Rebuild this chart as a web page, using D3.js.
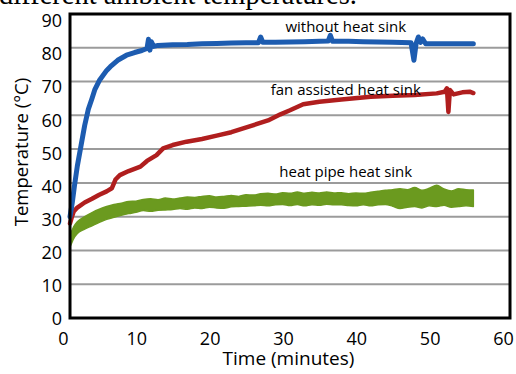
<!DOCTYPE html>
<html>
<head>
<meta charset="utf-8">
<script src="https://cdn.jsdelivr.net/npm/d3@7"></script>
<style>
  body { margin: 0; background: #fff; }
  svg { display: block; }
</style>
</head>
<body>
<svg></svg>
<script>
// without heat sink
let blueTime = [0, 0.3, 0.6, 1, 1.5, 2, 2.5, 3, 3.4, 4, 5, 5.5, 6.5, 7.7, 8.8, 9.8, 10.5, 10.7, 10.9, 11.1, 11.4, 12, 14, 16, 18, 20, 22, 24, 25.7, 26, 26.3, 28, 30, 32, 34, 35.2, 35.5, 35.8, 38, 40, 42, 44, 46.5, 46.9, 47.2, 47.5, 47.8, 48.1, 48.5, 50, 52, 55]
let blueTemp = [30, 34, 39, 45, 51, 57, 61.8, 65, 67.7, 70.3, 73.3, 74.4, 76.3, 77.8, 78.6, 79.2, 79.8, 82.5, 79.3, 81.8, 80.4, 80.7, 80.9, 81, 81.2, 81.3, 81.4, 81.5, 81.5, 83.2, 81.6, 81.6, 81.7, 81.8, 81.9, 82, 83.7, 81.9, 81.9, 81.8, 81.7, 81.6, 81.5, 76.3, 81.3, 83.2, 81.6, 82.6, 81.2, 81.2, 81.2, 81.2]

// fan assisted heat sink
let redTime = [0, 0.2, 0.5, 1, 2, 3, 4, 5, 5.7, 6.2, 6.8, 8, 9.6, 10.5, 11.8, 12.7, 14, 15.9, 18, 20, 22, 24.6, 27, 28.7, 30, 31.8, 34, 37, 41, 44, 47, 50, 51.1, 51.4, 51.6, 51.8, 52.3, 53.5, 54.5, 55]
let redTemp = [28, 29.5, 31.5, 32.7, 34.2, 35.3, 36.5, 37.5, 38.4, 41, 42.3, 43.5, 44.8, 46.5, 48.2, 50.2, 51.2, 52.2, 53, 54, 55, 56.8, 58.5, 60.3, 61.5, 63.3, 64, 64.7, 65.5, 65.8, 66, 66.5, 67, 68, 61, 67.5, 66.2, 66.8, 67, 66.6]

// heat pipe heat sink (band low / high)
let greenTime = [0, 0.5, 1, 2, 3, 4, 5, 6, 7, 8, 9, 10, 11, 12, 13, 14, 15, 16, 17, 18, 19, 20, 21, 22, 23, 24, 25, 26, 27, 28, 29, 30, 31, 32, 33, 34, 35, 36, 37, 38, 39, 40, 41, 42, 43, 44, 45, 46, 47, 48, 49, 50, 51, 52, 53, 54, 55]
let greenLow = [21, 23.5, 25, 26.3, 27.3, 28.3, 29.2, 29.8, 30.4, 30.9, 31.3, 31.8, 31.6, 31.9, 32, 32.1, 32.4, 32.2, 32.6, 32.4, 32.8, 32.6, 32.5, 32.9, 33, 33.1, 33.2, 33.4, 33.2, 33.5, 33.6, 33.3, 33.6, 33.2, 33.5, 33.4, 33.7, 33.5, 33.5, 33.3, 33.2, 33.5, 33.2, 33.5, 33.6, 33.1, 32.4, 32.8, 33, 32.6, 33.2, 33, 33.4, 32.8, 33, 33.2, 33]
let greenHigh = [24.5, 27, 28.5, 30, 31.2, 32.2, 33, 33.6, 34, 34.5, 34.6, 35.1, 35.3, 35, 35.5, 35.2, 35.5, 35.8, 35.7, 36, 36.2, 35.8, 36, 36.3, 36, 36.5, 36.4, 36.8, 36.9, 36.7, 37.1, 36.9, 37.3, 36.9, 37.2, 37, 37.3, 37, 37.1, 36.8, 37, 36.9, 37.2, 37.5, 37.8, 38, 38.3, 38, 38.6, 37.8, 38.4, 39.3, 38.2, 37.6, 38.3, 38, 37.9]

let xTicks = [0, 10, 20, 30, 40, 50, 60]
let yTicks = [0, 10, 20, 30, 40, 50, 60, 70, 80, 90]

let labels = [
  { text: 'without heat sink', t: 37.6, v: 84.8 },
  { text: 'fan assisted heat sink', t: 37.6, v: 66.1 },
  { text: 'heat pipe heat sink', t: 37.6, v: 41.6 }
]

let width = 516
let height = 374
let plotLeft = 70
let plotRight = 510
let plotTop = 14
let plotBottom = 318

let svg = d3.select('svg')
  .attr('width', width)
  .attr('height', height)

let xScale = d3.scaleLinear().domain([0, 60]).range([plotLeft, plotRight])
let yScale = d3.scaleLinear().domain([0, 90]).range([plotBottom, plotTop])
// the tick labels in the figure sit on a slightly different spacing than the frame
let xLabelScale = d3.scaleLinear().domain([0, 60]).range([63, 503])
let yLabelScale = d3.scaleLinear().domain([0, 90]).range([319, 21])

let font = "'Open Sans', sans-serif"

// caption left over from the page above the figure
svg.append('text')
  .attr('x', -1)
  .attr('y', 4)
  .style('font-family', "'Liberation Serif', serif")
  .style('font-size', '28.5px')
  .style('fill', '#000')
  .text('different ambient temperatures.')

// gridlines
svg.append('g')
  .selectAll('line')
  .data(yTicks.filter(d => d > 0 && d < 90))
  .enter()
  .append('line')
  .attr('x1', plotLeft)
  .attr('x2', plotRight)
  .attr('y1', d => yScale(d))
  .attr('y2', d => yScale(d))
  .attr('stroke', '#9b9b9b')
  .attr('stroke-width', 2)

// green band
let greenData = greenTime.map((t, i) => ({ t: t, lo: greenLow[i], hi: greenHigh[i] }))
let band = d3.area()
  .x(d => xScale(d.t))
  .y0(d => yScale(d.lo))
  .y1(d => yScale(d.hi))
  .curve(d3.curveMonotoneX)

svg.append('path')
  .datum(greenData)
  .attr('d', band)
  .attr('fill', '#6b9a1f')
  .attr('stroke', '#6b9a1f')
  .attr('stroke-width', 1.5)
  .attr('stroke-linejoin', 'round')

let line = d3.line()
  .x(d => xScale(d[0]))
  .y(d => yScale(d[1]))

svg.append('path')
  .datum(redTime.map((t, i) => [t, redTemp[i]]))
  .attr('d', line)
  .attr('fill', 'none')
  .attr('stroke', '#b01e1e')
  .attr('stroke-width', 4.5)
  .attr('stroke-linejoin', 'round')
  .attr('stroke-linecap', 'round')

svg.append('path')
  .datum(blueTime.map((t, i) => [t, blueTemp[i]]))
  .attr('d', line)
  .attr('fill', 'none')
  .attr('stroke', '#1d5cb0')
  .attr('stroke-width', 5)
  .attr('stroke-linejoin', 'round')
  .attr('stroke-linecap', 'round')

// frame
svg.append('rect')
  .attr('x', plotLeft)
  .attr('y', plotTop)
  .attr('width', plotRight - plotLeft)
  .attr('height', plotBottom - plotTop)
  .attr('fill', 'none')
  .attr('stroke', '#000')
  .attr('stroke-width', 3)

// axes (labels only, the frame draws the lines)
let xAxis = d3.axisBottom(xLabelScale).tickValues(xTicks).tickSize(0).tickPadding(0)
let yAxis = d3.axisLeft(yLabelScale).tickValues(yTicks).tickSize(0).tickPadding(0)

let gx = svg.append('g')
  .attr('transform', 'translate(0, ' + (plotBottom + 14) + ')')
  .call(xAxis)
gx.select('.domain').remove()
gx.selectAll('text')
  .style('font-family', font)
  .style('font-size', '18px')
  .style('fill', '#000')

let gy = svg.append('g')
  .attr('transform', 'translate(' + (plotLeft - 8) + ', 0)')
  .call(yAxis)
gy.select('.domain').remove()
gy.selectAll('text')
  .style('font-family', font)
  .style('font-size', '18px')
  .style('fill', '#000')

svg.append('text')
  .attr('x', 288.5)
  .attr('y', 365)
  .style('text-anchor', 'middle')
  .style('font-family', font)
  .style('font-size', '19px')
  .text('Time (minutes)')

svg.append('text')
  .attr('transform', 'translate(28, 152) rotate(-90)')
  .style('text-anchor', 'middle')
  .style('font-family', font)
  .style('font-size', '18.5px')
  .text('Temperature (°C)')

svg.append('g')
  .selectAll('text')
  .data(labels)
  .enter()
  .append('text')
  .attr('x', d => xScale(d.t))
  .attr('y', d => yScale(d.v))
  .style('text-anchor', 'middle')
  .style('font-family', font)
  .style('font-size', '15px')
  .text(d => d.text)
</script>
</body>
</html>
